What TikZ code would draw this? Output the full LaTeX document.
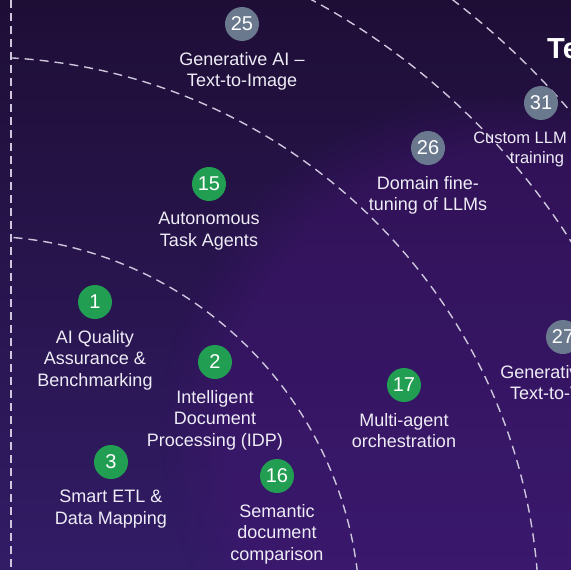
\documentclass[tikz,border=0pt]{standalone}
\usepackage{fontspec}
\setmainfont{Liberation Sans}
\usetikzlibrary{positioning, fadings}
\definecolor{bgtop}{RGB}{30,14,54}
\definecolor{bgbottom}{RGB}{50,28,102}
\definecolor{glow}{RGB}{70,20,120}
\definecolor{dotgreen}{RGB}{34,158,82}
\definecolor{dotgrey}{RGB}{106,121,142}
\definecolor{softwhite}{RGB}{238,236,246}
\definecolor{dashwhite}{RGB}{205,198,220}

\tikzset{
  ringline/.style={dashwhite, line width=1.4pt, dash pattern=on 9pt off 6pt},
  edgeline/.style={dashwhite, line width=1.9pt, dash pattern=on 8pt off 5pt},
  greendot/.style={circle, fill=dotgreen, minimum size=34pt, inner sep=0pt, text=white, font=\fontsize{20}{24}\selectfont},
  greydot/.style={greendot, fill=dotgrey},
  itemlabel/.style={inner sep=0pt, align=center, text=softwhite, font=\fontsize{18}{21.5}\selectfont},
}

\begin{document}
\begin{tikzpicture}[x=1pt, y=-1pt]
  \useasboundingbox (0,0) rectangle (571,570);
  \clip (0,0) rectangle (571,570);
  % background
  \shade[top color=bgtop, bottom color=bgbottom] (0,0) rectangle (571,570);
  \fill[glow, opacity=0.4, path fading=circle with fuzzy edge 20 percent] (500,430) circle[radius=340pt];

  % rings round the lower left corner
  \coordinate (hub) at (-21,617);
  \begin{scope}
    \clip (11,0) rectangle (571,570);
    \foreach \r in {381,560,701,778} {
      \draw[ringline] (hub) circle[radius=\r pt];
    }
  \end{scope}
  \draw[edgeline] (11,0) -- (11,570);

  \node[anchor=base west, inner sep=0pt, text=white, font=\bfseries\fontsize{29}{34}\selectfont] (title) at (547,58) {Te};

  % green items
  \foreach \id/\px/\py/\txt in {
      1/95/302/{AI Quality\\Assurance \&\\Benchmarking},
      2/215/362/{Intelligent\\Document\\Processing (IDP)},
      3/111/462/{Smart ETL \&\\Data Mapping},
      15/209/184/{Autonomous\\Task Agents},
      16/277/476/{Semantic\\document\\comparison},
      17/404/385/{Multi-agent\\orchestration}} {
    \node[greendot] (n\id) at (\px,\py) {\id};
    \node[itemlabel, below=11pt of n\id] (l\id) {\txt};
  }

  % grey items
  \foreach \id/\px/\py/\txt in {
      25/242/24/{Generative AI --\\Text-to-Image},
      26/428/148/{Domain fine-\\tuning of LLMs},
      27/563/337/{Generative AI --\\Text-to-Video}} {
    \node[greydot] (n\id) at (\px,\py) {\id};
    \node[itemlabel, below=11pt of n\id] (l\id) {\txt};
  }
  \node[greydot] (n31) at (541,103) {31};
  \node[itemlabel, font=\fontsize{16.5}{19.5}\selectfont, below=12pt of n31, xshift=-4pt] (l31) {Custom LLM pre-\\training};
\end{tikzpicture}
\end{document}
